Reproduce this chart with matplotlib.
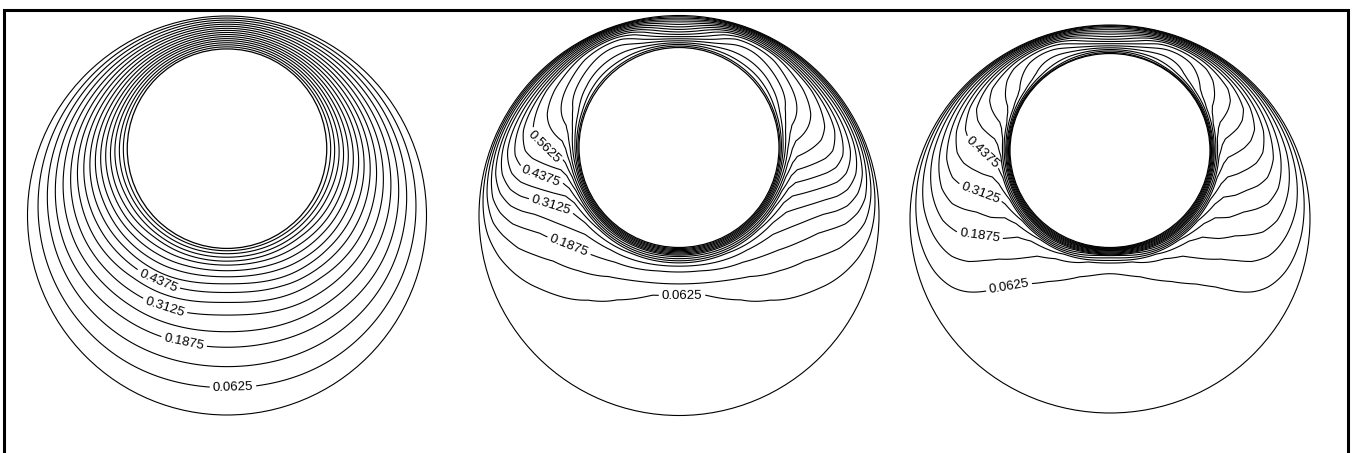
import numpy as np
import matplotlib.pyplot as plt
from matplotlib.patches import Ellipse

plt.rcParams['font.family'] = ['Liberation Sans', 'DejaVu Sans']

# isotherm levels and which of them carry a label in each panel
levels = [0.0625, 0.125, 0.1875, 0.25, 0.3125, 0.375, 0.4375, 0.5,
          0.5625, 0.625, 0.6875, 0.75, 0.8125, 0.875, 0.9375]
labels_1 = [0.0625, 0.1875, 0.3125, 0.4375]
labels_2 = [0.0625, 0.1875, 0.3125, 0.4375, 0.5625]
labels_3 = [0.0625, 0.1875, 0.3125, 0.4375]

# geometry: inner/outer radius ratio, upward shift of the inner cylinder
radius_ratio = 0.5
offset_1 = 0.335
offset_2 = 0.34
offset_3 = 0.353

# temperature read along rays from the inner centre
# ray angle from the top in degrees, position across the gap 0=inner 1=outer
ray_angle = [0, 30, 60, 90, 120, 150, 180]
gap_pos = [0, 0.02, 0.05, 0.1, 0.15, 0.2, 0.3, 0.4, 0.5, 0.6, 0.7, 0.8,
           0.87, 0.93, 0.97, 1.0]
temp_1 = [
    [1, .98, .95, .90, .85, .80, .70, .60, .50, .40, .30, .20, .13, .07, .03, 0],
    [1, .975, .94, .885, .83, .78, .67, .565, .465, .37, .275, .18, .12, .065, .025, 0],
    [1, .97, .935, .87, .81, .75, .635, .53, .43, .335, .245, .16, .10, .05, .02, 0],
    [1, .97, .93, .86, .80, .735, .62, .51, .41, .315, .23, .145, .09, .045, .02, 0],
    [1, .955, .89, .80, .73, .66, .54, .44, .35, .27, .195, .12, .075, .04, .015, 0],
    [1, .93, .85, .73, .65, .58, .46, .36, .285, .21, .15, .095, .06, .03, .012, 0],
    [1, .91, .82, .6875, .595, .515, .395, .3125, .25, .183, .13, .078, .048, .025, .01, 0],
]
temp_2 = [
    [1, .97, .93, .87, .81, .76, .66, .57, .49, .41, .33, .25, .18, .11, .05, 0],
    [1, .97, .93, .89, .86, .84, .80, .77, .74, .70, .62, .48, .36, .23, .11, 0],
    [1, .95, .90, .86, .83, .80, .76, .72, .68, .64, .58, .42, .30, .19, .09, 0],
    [1, .90, .80, .69, .63, .60, .58, .56, .54, .51, .46, .38, .30, .19, .09, 0],
    [1, .85, .66, .45, .36, .32, .28, .24, .20, .17, .14, .10, .07, .04, .02, 0],
    [1, .82, .58, .33, .24, .19, .13, .09, .06, .04, .02, .01, 0, 0, 0, 0],
    [1, .80, .52, .27, .18, .14, .05, .02, .01, 0, 0, 0, 0, 0, 0, 0],
]
temp_3 = [
    [1, .96, .92, .86, .80, .75, .66, .58, .50, .43, .36, .28, .22, .15, .08, 0],
    [1, .93, .88, .84, .81, .79, .76, .73, .70, .66, .58, .44, .32, .20, .09, 0],
    [1, .90, .81, .72, .68, .66, .64, .62, .60, .57, .50, .38, .28, .18, .08, 0],
    [1, .85, .68, .52, .48, .46, .445, .43, .41, .38, .33, .25, .19, .12, .06, 0],
    [1, .83, .60, .36, .30, .27, .25, .22, .20, .18, .15, .11, .08, .05, .02, 0],
    [1, .80, .52, .22, .14, .11, .08, .055, .035, .02, .01, .005, 0, 0, 0, 0],
    [1, .65, .30, .10, .065, .05, .03, .02, .01, 0, 0, 0, 0, 0, 0, 0],
]


def make_grid(n=801):
    g = np.linspace(-1.02, 1.02, n)
    return np.meshgrid(g, g)


def from_rays(X, Y, e, ri, table):
    # map each point to (angle, gap position) and look the table up
    dy = Y - e
    r = np.hypot(X, dy)
    phi = np.degrees(np.arctan2(np.abs(X), dy))
    c = np.cos(np.radians(phi))
    t_out = -e*c + np.sqrt((e*c)**2 - e**2 + 1)
    s = (r - ri) / (t_out - ri)
    rows = [np.interp(s, gap_pos, row) for row in table]
    # mirror the end rays (field is symmetric about the vertical) and
    # blend the rays with a Catmull-Rom spline in angle
    padded = np.array([rows[1]] + rows + [rows[-2]])
    step = ray_angle[1] - ray_angle[0]
    u = phi / step
    k = np.clip(np.floor(u).astype(int), 0, len(rows) - 2)
    t = u - k
    p0, p1, p2, p3 = [np.take_along_axis(padded, (k + j)[None], 0)[0]
                      for j in range(4)]
    return 0.5*(2*p1 + (p2 - p0)*t + (2*p0 - 5*p1 + 4*p2 - p3)*t**2
                + (3*p1 - p0 - 3*p2 + p3)*t**3)


X, Y = make_grid()
offsets = [offset_1, offset_2, offset_3]
tables = [temp_1, temp_2, temp_3]
label_sets = [labels_1, labels_2, labels_3]

# panel placement in figure pixels: centre x, centre y, x and y radius
panels = [(227, 215.5, 199.5, 199.5), (679, 215.5, 200, 200),
          (1110, 219, 200, 194)]
label_pos = [
    [(233, 388), (184, 342), (165, 306), (157, 283)],
    [(682, 293), (572, 238), (552, 203), (542, 173), (547, 143)],
    [(1009, 287), (980, 232), (978, 199), (975, 165)],
]

fig = plt.figure(figsize=(13.56, 4.53), dpi=100)
ax = fig.add_axes([0, 0, 1, 1])
ax.set_xlim(0, 1356)
ax.set_ylim(453, 0)
ax.axis('off')

for (cx, cy, Rx, Ry), e, tab, labs, pos in zip(panels, offsets, tables,
                                              label_sets, label_pos):
    T = from_rays(X, Y, e, radius_ratio, tab)
    PX = cx + Rx*X
    PY = cy - Ry*Y
    plain = [lv for lv in levels if lv not in labs]
    ax.contour(PX, PY, T, levels=plain, colors='k', linewidths=0.8)
    cs = ax.contour(PX, PY, T, levels=labs, colors='k', linewidths=0.8)
    ax.clabel(cs, manual=pos, fmt='%g', fontsize=9.5, inline_spacing=3)
    ax.add_patch(Ellipse((cx, cy), 2*Rx, 2*Ry, fill=False, ec='k', lw=0.8))
    ax.add_patch(Ellipse((cx, cy - e*Ry), 2*radius_ratio*Rx,
                         2*radius_ratio*Ry, fill=False, ec='k', lw=0.9))

ax.plot([4, 4, 1348, 1348], [453, 10, 10, 453], color='k', lw=2.2,
        solid_joinstyle='miter')

fig.savefig('out.png', dpi=100)
